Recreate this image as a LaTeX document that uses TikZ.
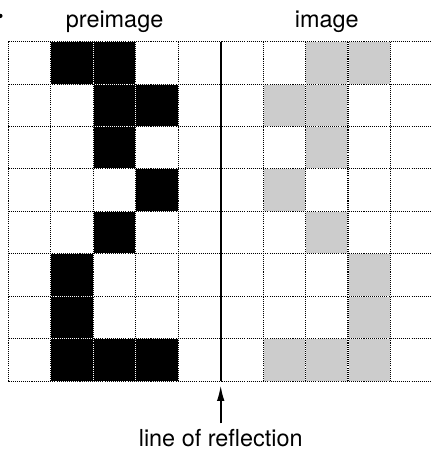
\documentclass[tikz,border=0pt]{standalone}
\usepackage{fontspec}
\setmainfont{TeX Gyre Heros}
\usepackage{tikz}
\usetikzlibrary{arrows.meta, positioning, calc}
\tikzstyle{preimg} = [fill=black]
\tikzstyle{img} = [fill=black!20]
\tikzstyle{gridback} = [white, line width=0.7pt]
\tikzstyle{gridline} = [black, line width=0.7pt, dash pattern=on 0.7pt off 0.7pt]
\tikzstyle{mirror} = [line width=1.3pt]
\tikzstyle{label} = [font=\fontsize{15.7}{18}\selectfont, anchor=base, inner sep=0pt]
\tikzstyle{arrow} = [line width=1.3pt, -{Latex[length=10.5pt, width=5pt]}]

\begin{document}
\begin{tikzpicture}
\useasboundingbox (-0.2,-1.647) rectangle (9.965,8.98);
\fill (-0.19,8.605) circle (0.05);
% preimage cells (column/row counted from top left)
\foreach \c/\r in {1/0,2/0,2/1,3/1,2/2,3/3,2/4,1/5,1/6,1/7,2/7,3/7}
  \fill[preimg] (\c,7-\r) rectangle ++(1,1);
% image cells
\foreach \c/\r in {1/0,2/0,2/1,3/1,2/2,3/3,2/4,1/5,1/6,1/7,2/7,3/7}
  \fill[img] (9-\c,7-\r) rectangle ++(1,1);
\draw[gridback] (0,0) grid (10,8);
\draw[gridline] (0,0) grid (10,8);
\draw[mirror] (5,0) -- (5,8);

\node (pre) [label] at (2.5,8.34) {preimage};
\node (post) [label] at (7.5,8.34) {image};
\node (lbl) [label] at (5,-1.546) {line of reflection};
\coordinate (tip) at (5,-0.094);
\draw [arrow] ($(lbl.base)+(0,0.55)$) -- (tip);
\end{tikzpicture}
\end{document}
